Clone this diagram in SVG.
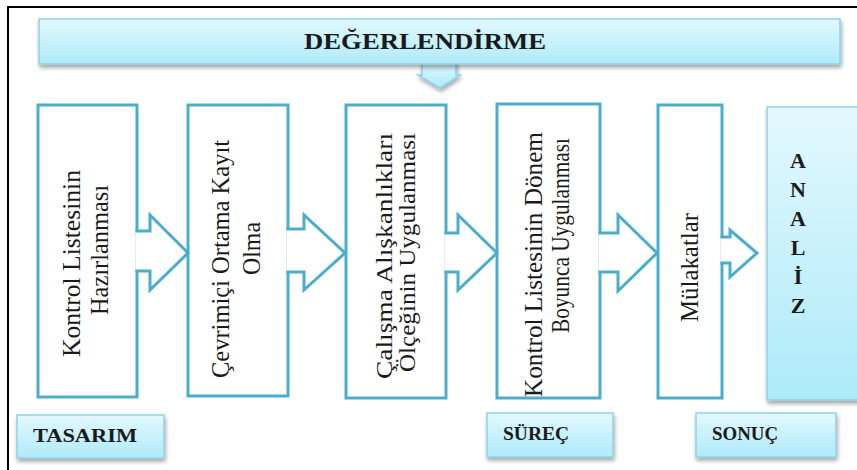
<svg xmlns="http://www.w3.org/2000/svg" width="857" height="470" viewBox="0 0 857 470">
<defs>
<linearGradient id="cyan" x1="0" y1="0" x2="0" y2="1">
<stop offset="0" stop-color="#e3f8fe"/>
<stop offset="1" stop-color="#aeeaf9"/>
</linearGradient>
<filter id="sh" x="-10%" y="-10%" width="120%" height="140%">
<feDropShadow dx="1" dy="3" stdDeviation="2" flood-color="#000" flood-opacity="0.35"/>
</filter>
</defs>
<style>
.frame{stroke:#000;stroke-width:2;fill:none}
.light{fill:url(#cyan);stroke:#8fd2e6;stroke-width:1.5;filter:url(#sh)}
.box{fill:#fff;stroke:#4aaecb;stroke-width:3}
.arr{fill:#fff;stroke:#4aaecb;stroke-width:3;stroke-linejoin:miter}
.vt{font-family:"Liberation Serif","Times New Roman",serif;font-size:26px;fill:#1a1a1a;text-anchor:middle}
.bt{font-family:"Liberation Serif","Times New Roman",serif;font-weight:bold;fill:#1a1a1a}
.al{font-family:"Liberation Serif","Times New Roman",serif;font-weight:bold;fill:#1a1a1a;font-size:22px;text-anchor:middle}
</style>
<path class="frame" d="M8 470 V7 H857"/>

<g id="degerlendirme">
<path class="light" d="M422 60 V75 H418 L440 88 L460 75 H456 V60 Z"/>
<rect class="light" x="39" y="19" width="801" height="45"/>
<text class="bt" x="425" y="49" font-size="23" text-anchor="middle" textLength="242" lengthAdjust="spacingAndGlyphs">DEĞERLENDİRME</text>
</g>

<g id="box1">
<rect class="box" x="38" y="105" width="99" height="292"/>
<text class="vt" transform="translate(80 263.5) rotate(-90)" textLength="187" lengthAdjust="spacingAndGlyphs">Kontrol Listesinin</text>
<text class="vt" transform="translate(108 250) rotate(-90)" textLength="130" lengthAdjust="spacingAndGlyphs">Hazırlanması</text>
</g>

<g id="box2">
<rect class="box" x="188" y="105" width="100" height="291"/>
<text class="vt" transform="translate(229 259) rotate(-90)" textLength="238" lengthAdjust="spacingAndGlyphs">Çevrimiçi Ortama Kayıt</text>
<text class="vt" transform="translate(260 248.5) rotate(-90)" textLength="53" lengthAdjust="spacingAndGlyphs">Olma</text>
</g>

<g id="box3">
<rect class="box" x="346" y="105" width="100" height="293"/>
<text class="vt" style="font-size:24px" transform="translate(392 256) rotate(-90)" textLength="246" lengthAdjust="spacingAndGlyphs">Çalışma Alışkanlıkları</text>
<text class="vt" style="font-size:24px" transform="translate(415 252.5) rotate(-90)" textLength="239" lengthAdjust="spacingAndGlyphs">Ölçeğinin Uygulanması</text>
</g>

<g id="box4">
<rect class="box" x="497" y="104" width="103" height="294"/>
<text class="vt" transform="translate(542 264.5) rotate(-90)" textLength="265" lengthAdjust="spacingAndGlyphs">Kontrol Listesinin Dönem</text>
<text class="vt" transform="translate(569 235.5) rotate(-90)" textLength="195" lengthAdjust="spacingAndGlyphs">Boyunca Uygulanması</text>
</g>

<g id="box5">
<rect class="box" x="658" y="105" width="64" height="293"/>
<text class="vt" transform="translate(698 267.5) rotate(-90)" textLength="109" lengthAdjust="spacingAndGlyphs">Mülakatlar</text>
</g>

<g id="analiz">
<rect class="light" x="767" y="107" width="100" height="293"/>
<text class="al" x="798" y="168">A</text>
<text class="al" x="798" y="197">N</text>
<text class="al" x="798" y="226">A</text>
<text class="al" x="798" y="255">L</text>
<text class="al" x="798" y="284">İ</text>
<text class="al" x="798" y="313">Z</text>
</g>

<g id="tasarim">
<rect class="light" x="17" y="415" width="147" height="43"/>
<text class="bt" x="33" y="442" font-size="18" textLength="104" lengthAdjust="spacingAndGlyphs">TASARIM</text>
</g>
<g id="surec">
<rect class="light" x="487" y="413" width="126" height="44"/>
<text class="bt" x="503" y="440" font-size="19" textLength="66" lengthAdjust="spacingAndGlyphs">SÜREÇ</text>
</g>
<g id="sonuc">
<rect class="light" x="696" y="413" width="140" height="44"/>
<text class="bt" x="712" y="440" font-size="19" textLength="66" lengthAdjust="spacingAndGlyphs">SONUÇ</text>
</g>

<g id="connectors">
<path class="arr" d="M135.4 231 H150 V215 L188 253 L150 290 V271 H135.4"/>
<path class="arr" d="M286.4 229 H304 V215 L345 253 L304 290 V272 H286.4"/>
<path class="arr" d="M444.4 233 H458 V215 L497 253 L458 290 V272 H444.4"/>
<path class="arr" d="M598.4 233 H618 V215 L657 253 L618 291 V272 H598.4"/>
<path class="arr" d="M720.4 237 H730 V230 L757 253 L730 277 V263 H720.4"/>
</g>
</svg>
